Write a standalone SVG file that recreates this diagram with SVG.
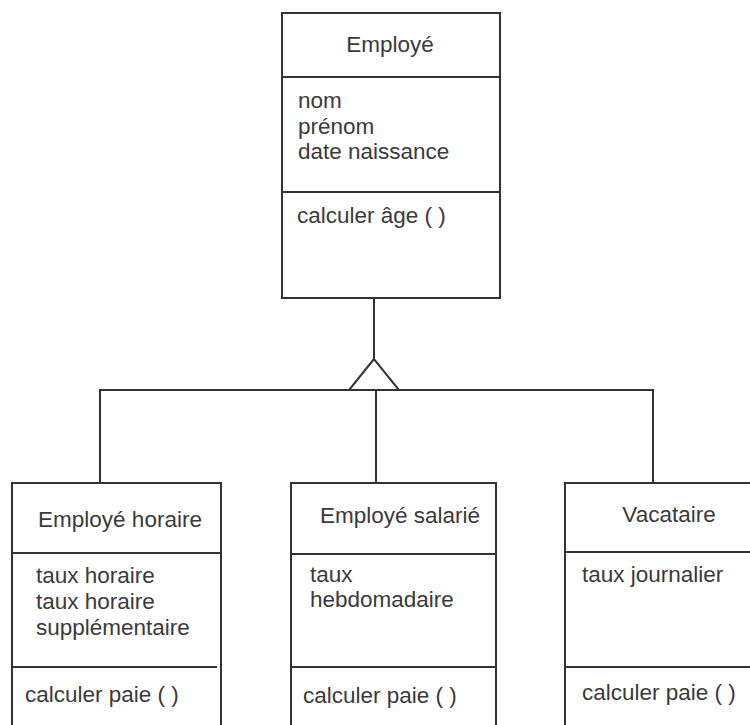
<svg xmlns="http://www.w3.org/2000/svg" width="750" height="725" viewBox="0 0 750 725">
<style>
.box{fill:#fff;stroke:#333;stroke-width:2}
.div{stroke:#333;stroke-width:2;fill:none}
.conn{stroke:#333;stroke-width:2;fill:none}
.tri{fill:#fff;stroke:#333;stroke-width:2;stroke-linejoin:miter}
text{font-family:"Liberation Sans",Arial,sans-serif;font-size:22.5px;fill:#3a3a3a}
.c{text-anchor:middle}
</style>
<rect width="750" height="725" fill="#fff"/>
<g id="connectors">
<line class="conn" x1="374" y1="298" x2="374" y2="359"/>
<polyline class="conn" points="100,483 100,390 653,390 653,483"/>
<line class="conn" x1="376" y1="390" x2="376" y2="483"/>
<polygon class="tri" points="374,359 349,390 399,390"/>
</g>
<g id="employe">
<rect class="box" x="282" y="13" width="218" height="285"/>
<line class="div" x1="282" y1="77" x2="500" y2="77"/>
<line class="div" x1="282" y1="192" x2="500" y2="192"/>
<text class="c" x="390" y="52">Employé</text>
<text x="298" y="108">nom</text>
<text x="298" y="133.5">prénom</text>
<text x="298" y="159">date naissance</text>
<text x="297" y="223">calculer âge ( )</text>
</g>
<g id="employe-horaire">
<rect class="box" x="12" y="483" width="209" height="260"/>
<line class="div" x1="12" y1="553" x2="221" y2="553"/>
<line class="div" x1="12" y1="667" x2="217" y2="667"/>
<text class="c" x="120" y="527">Employé horaire</text>
<text x="36" y="583">taux horaire</text>
<text x="36" y="609">taux horaire</text>
<text x="36" y="635">supplémentaire</text>
<text x="25" y="702">calculer paie ( )</text>
</g>
<g id="employe-salarie">
<rect class="box" x="291" y="483" width="205" height="260"/>
<line class="div" x1="291" y1="554" x2="496" y2="554"/>
<line class="div" x1="291" y1="667" x2="496" y2="667"/>
<text class="c" x="400" y="523">Employé salarié</text>
<text x="310" y="582">taux</text>
<text x="310" y="607">hebdomadaire</text>
<text x="303" y="703">calculer paie ( )</text>
</g>
<g id="vacataire">
<rect class="box" x="565" y="483" width="200" height="260"/>
<line class="div" x1="565" y1="552" x2="765" y2="552"/>
<line class="div" x1="565" y1="667" x2="765" y2="667"/>
<text class="c" x="669" y="522">Vacataire</text>
<text x="582" y="582">taux journalier</text>
<text x="582" y="700">calculer paie ( )</text>
</g>
</svg>
